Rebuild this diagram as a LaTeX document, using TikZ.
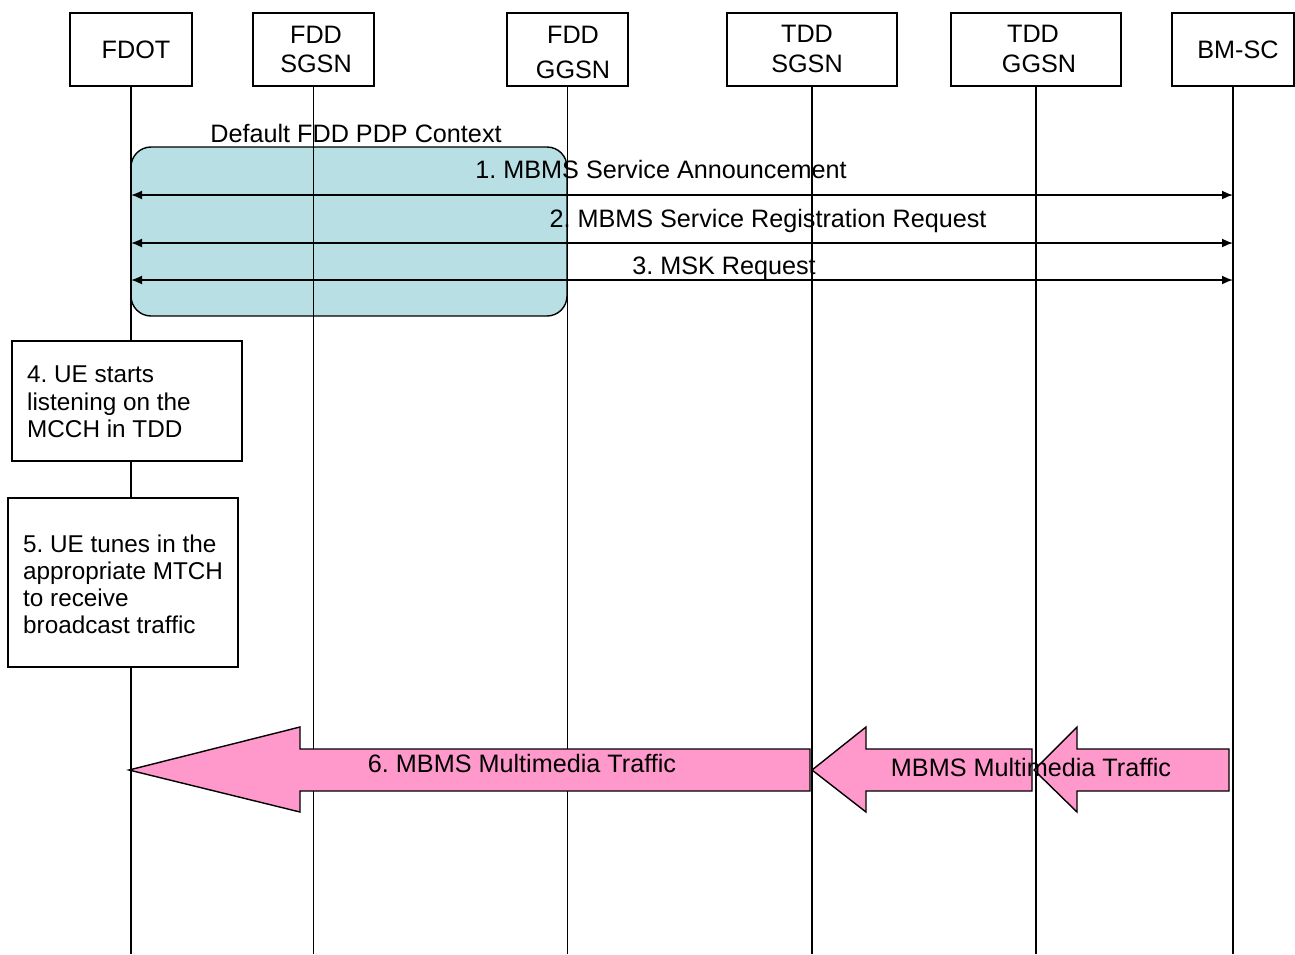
\documentclass[tikz,border=0pt]{standalone}
\usepackage{fontspec}
\setmainfont{Liberation Sans}
\usetikzlibrary{arrows.meta}
\definecolor{ctxblue}{RGB}{184,223,227}
\definecolor{trafpink}{RGB}{255,153,204}
\begin{document}
\begin{tikzpicture}[x=1pt,y=-1pt,
  every node/.style={font=\fontsize{25.2}{27.5}\selectfont\frenchspacing, inner sep=0pt},
  hdr/.style={draw, line width=1.4pt, fill=white, minimum height=73pt},
  lbl/.style={anchor=base},
  llbl/.style={anchor=base west, font=\fontsize{24.3}{27.5}\selectfont\frenchspacing},
  life/.style={line width=1.3pt},
  msg/.style={line width=1.7pt, {Latex[length=11pt,width=9pt]}-{Latex[length=11pt,width=9pt]}},
  ubox/.style={draw, line width=1.4pt, fill=white},
  ctxbox/.style={draw, line width=1.4pt, fill=ctxblue, rounded corners=20pt},
  traffic/.style={draw, line width=1.4pt, fill=trafpink, line join=miter}
]
\useasboundingbox (0,0) rectangle (1295,954);
\coordinate (bot) at (0,954);

% default PDP context area
\node[ctxbox, minimum width=436, minimum height=169] (ctx) at (349,231.5) {};

% header boxes
\node[hdr, minimum width=122] (fdot)  at (131,49.5) {};
\node[hdr, minimum width=121] (fsgsn) at (313.5,49.5) {};
\node[hdr, minimum width=121] (fggsn) at (567.5,49.5) {};
\node[hdr, minimum width=170] (tsgsn) at (812,49.5) {};
\node[hdr, minimum width=170] (tggsn) at (1036,49.5) {};
\node[hdr, minimum width=122] (bmsc)  at (1233,49.5) {};

\node[lbl] (tfdot) at (136,58) {FDOT};
\node[lbl] (tfs1) at (316,43) {FDD};
\node[lbl] (tfs2) at (316,72) {SGSN};
\node[lbl] (tfg1) at (573,43.5) {FDD};
\node[lbl] (tfg2) at (573,78) {GGSN};
\node[lbl] (tts1) at (807,42) {TDD};
\node[lbl] (tts2) at (807,72) {SGSN};
\node[lbl] (ttg1) at (1033,42) {TDD};
\node[lbl] (ttg2) at (1039,72) {GGSN};
\node[lbl] (tbm) at (1238,58) {BM-SC};

% lifelines
\foreach \n in {fdot,fsgsn,fggsn,tsgsn,tggsn,bmsc}
  \draw[life] (\n.south) -- (\n.south |- bot);

\node[lbl] (ctxlbl) at (356,142) {Default FDD PDP Context};

% messages
\coordinate (m1) at (0,195);
\coordinate (m2) at (0,243);
\coordinate (m3) at (0,280);
\draw[msg] (fdot |- m1) -- (bmsc |- m1);
\draw[msg] (fdot |- m2) -- (bmsc |- m2);
\draw[msg] (fdot |- m3) -- (bmsc |- m3);
\node[lbl] (l1) at (661,178) {1. MBMS Service Announcement};
\node[lbl] (l2) at (768,227) {2. MBMS Service Registration Request};
\node[lbl] (l3) at (724,274) {3. MSK Request};

% UE action boxes
\node[ubox, minimum width=230, minimum height=120] (s4) at (127,401) {};
\node[llbl] (s4a) at (27,382) {4. UE starts};
\node[llbl] (s4b) at (27,410) {listening on the};
\node[llbl] (s4c) at (27,437) {MCCH in TDD};

\node[ubox, minimum width=230, minimum height=169] (s5) at (123,582.5) {};
\node[llbl] (s5a) at (23,552) {5. UE tunes in the};
\node[llbl] (s5b) at (23,579) {appropriate MTCH};
\node[llbl] (s5c) at (23,606) {to receive};
\node[llbl] (s5d) at (23,633) {broadcast traffic};

% traffic arrows
\draw[traffic] (129,770) -- (300,727) -- (300,749) -- (810,749) -- (810,791) -- (300,791) -- (300,812) -- cycle;
\draw[traffic] (812,770) -- (866,727) -- (866,749) -- (1032,749) -- (1032,791) -- (866,791) -- (866,812) -- cycle;
\draw[traffic] (1034,770) -- (1077,727) -- (1077,749) -- (1229,749) -- (1229,791) -- (1077,791) -- (1077,812) -- cycle;
\node[lbl] (t6) at (522,772) {6. MBMS Multimedia Traffic};
\node[lbl] (t7) at (1031,776) {MBMS Multimedia Traffic};
\end{tikzpicture}
\end{document}
